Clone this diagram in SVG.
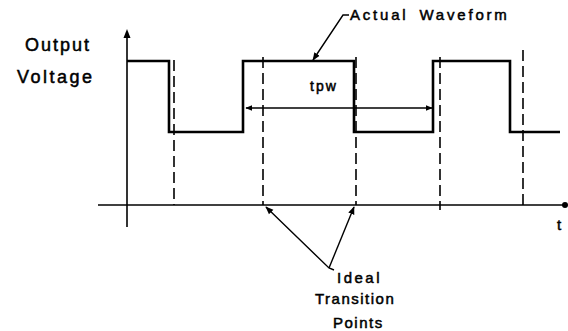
<svg xmlns="http://www.w3.org/2000/svg" width="568" height="331" viewBox="0 0 568 331">
<style>
text{font-family:"Liberation Sans",Arial,sans-serif;fill:#000;stroke:#000;stroke-width:0.5}
.axis{stroke:#000;stroke-width:1.6;fill:none}
.wave{stroke:#000;stroke-width:2.6;fill:none;stroke-linejoin:miter}
.dash{stroke:#000;stroke-width:1.6;stroke-dasharray:11 5;fill:none}
.lead{stroke:#000;stroke-width:1.4;fill:none}
</style>
<defs>
<marker id="ah" viewBox="0 0 10 10" refX="9" refY="5" markerWidth="7" markerHeight="7" markerUnits="userSpaceOnUse" orient="auto-start-reverse">
<path d="M0,1 L10,5 L0,9 z" fill="#000"/>
</marker>
<marker id="ah2" viewBox="0 0 10 10" refX="9" refY="5" markerWidth="8" markerHeight="8" markerUnits="userSpaceOnUse" orient="auto">
<path d="M0,1 L10,5 L0,9 z" fill="#000"/>
</marker>
</defs>
<g id="axes">
<line class="axis" x1="127" y1="36" x2="127" y2="227"/>
<path d="M127,29 L123.5,38 L130.5,38 z" fill="#000"/>
<line class="axis" x1="98" y1="205" x2="565" y2="205"/>
<circle cx="565" cy="205" r="3" fill="#000"/>
</g>
<g id="ideal-lines">
<line class="dash" x1="174" y1="60" x2="174" y2="205"/>
<line class="dash" x1="263" y1="57" x2="263" y2="205"/>
<line class="dash" x1="356" y1="57" x2="356" y2="205"/>
<line class="dash" x1="440" y1="57" x2="440" y2="210"/>
<line class="dash" x1="523" y1="50" x2="523" y2="210"/>
</g>
<g id="waveform">
<path class="wave" d="M127,61 H169 V132 H243 V61 H354 V132 H433 V61 H510 V132 H560"/>
</g>
<g id="connectors">
<line class="lead" x1="246" y1="108" x2="432" y2="108" marker-start="url(#ah)" marker-end="url(#ah)"/>
<polyline class="lead" points="349,15 343,15 313,60" marker-end="url(#ah2)"/>
<polyline class="lead" points="334,270 329,268 266,207" marker-end="url(#ah2)"/>
<line class="lead" x1="329" y1="268" x2="354" y2="207" marker-end="url(#ah2)"/>
</g>
<g id="labels">
<text x="25" y="51" font-size="18" letter-spacing="2">Output</text>
<text x="17" y="83" font-size="18" letter-spacing="2.5">Voltage</text>
<text x="350" y="20" font-size="15" letter-spacing="2.8" word-spacing="4">Actual Waveform</text>
<text x="310" y="91" font-size="14" letter-spacing="2">tpw</text>
<text x="557" y="230" font-size="15">t</text>
<text x="337" y="283" font-size="15" letter-spacing="2.5">Ideal</text>
<text x="315" y="304" font-size="15" letter-spacing="1.5">Transition</text>
<text x="333" y="328" font-size="15" letter-spacing="1.5">Points</text>
</g>
</svg>
